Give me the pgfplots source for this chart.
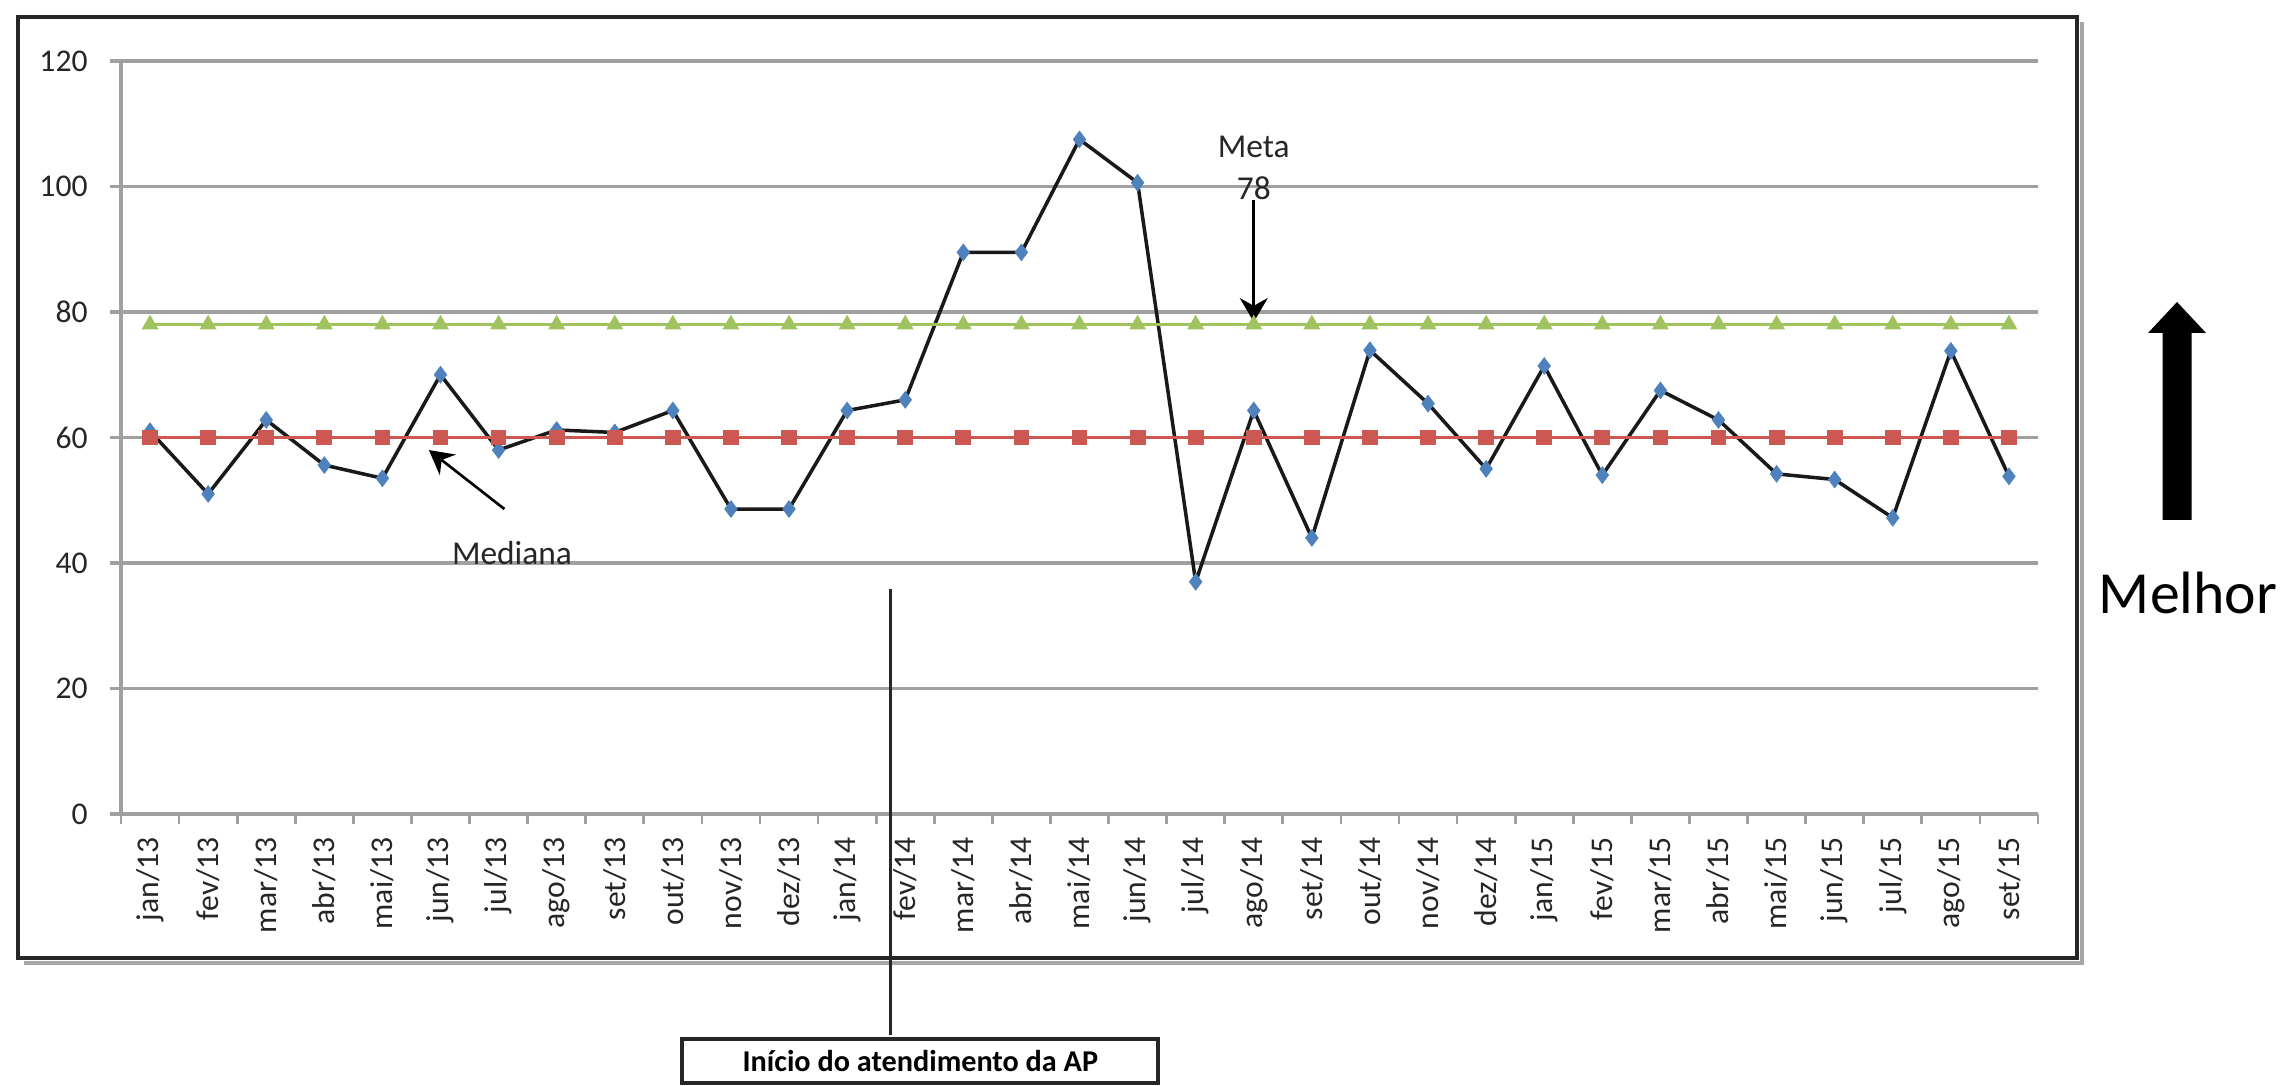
\documentclass[border=0pt]{standalone}
\usepackage{fontspec}
\setmainfont{Carlito}
\usepackage{pgfplots}
\pgfplotsset{compat=1.18}
\usetikzlibrary{arrows.meta}
\definecolor{gridgray}{RGB}{160,160,160}
\definecolor{medred}{RGB}{205,88,82}
\definecolor{metagreen}{RGB}{160,195,95}
\definecolor{markblue}{RGB}{79,129,189}
\pgfplotstableread{
x y
0 61
1 51
2 62.8
3 55.6
4 53.5
5 70
6 58
7 61.2
8 60.8
9 64.3
10 48.6
11 48.6
12 64.3
13 66
14 89.5
15 89.5
16 107.5
17 100.6
18 37
19 64.3
20 44
21 73.9
22 65.4
23 55
24 71.4
25 54
26 67.5
27 62.8
28 54.2
29 53.3
30 47.2
31 73.8
32 53.8
}\datatable
\pgfplotstableread{
x y
0 60
1 60
2 60
3 60
4 60
5 60
6 60
7 60
8 60
9 60
10 60
11 60
12 60
13 60
14 60
15 60
16 60
17 60
18 60
19 60
20 60
21 60
22 60
23 60
24 60
25 60
26 60
27 60
28 60
29 60
30 60
31 60
32 60
}\medtable
\pgfplotstableread{
x y
0 78
1 78
2 78
3 78
4 78
5 78
6 78
7 78
8 78
9 78
10 78
11 78
12 78
13 78
14 78
15 78
16 78
17 78
18 78
19 78
20 78
21 78
22 78
23 78
24 78
25 78
26 78
27 78
28 78
29 78
30 78
31 78
32 78
}\metatable
\begin{document}
\begin{tikzpicture}
\path[use as bounding box] (0,0) rectangle (228mm,108.6mm);
\begin{scope}[shift={(0mm,108.6mm)}, x=0.1mm, y=-0.1mm]
  % frame with shadow
  \draw[line width=0.45mm, gray!70] (24,963) -- (2082,963) -- (2082,22);
  \draw[line width=0.45mm, black!85] (18,17) rectangle (2077,958);
\end{scope}
\begin{axis}[
  at={(12.1mm,27.2mm)}, anchor=south west,
  scale only axis, width=191.7mm, height=75.3mm,
  xmin=-0.5, xmax=32.5, ymin=0, ymax=120,
  axis lines*=left,
  axis line style={gridgray, line width=0.9pt},
  ytick={0,20,...,120},
  ymajorgrids,
  major grid style={gridgray, line width=0.9pt},
  xtick={0,...,32},
  xticklabels={jan/13,fev/13,mar/13,abr/13,mai/13,jun/13,jul/13,ago/13,set/13,out/13,nov/13,dez/13,jan/14,fev/14,mar/14,abr/14,mai/14,jun/14,jul/14,ago/14,set/14,out/14,nov/14,dez/14,jan/15,fev/15,mar/15,abr/15,mai/15,jun/15,jul/15,ago/15,set/15},
  minor xtick={-0.5,0.5,...,32.5},
  tick align=outside,
  major tick length=1.1mm,
  minor tick length=1mm,
  major x tick style={draw=none},
  minor x tick style={gridgray, line width=0.8pt},
  ytick style={gridgray, line width=0.9pt},
  /pgf/number format/assume math mode=true,
  yticklabel style={font=\fontsize{9}{10}\selectfont, xshift=-1mm, text=black!85},
  xticklabel style={rotate=90, anchor=east, font=\fontsize{9}{10}\selectfont, text=black!85},
  clip=false,
]
\addplot[black!90, line width=1pt, mark=diamond*, mark size=2.3pt,
  mark options={fill=markblue, draw=markblue, line width=0.3pt}] table[x=x,y=y] {\datatable};
\addplot[medred, line width=1.1pt, mark=square*, mark size=1.7pt,
  mark options={fill=medred, draw=medred}] table[x=x,y=y] {\medtable};
\addplot[metagreen, line width=1pt, mark=triangle*, mark size=1.8pt,
  mark options={fill=metagreen, draw=metagreen}] table[x=x,y=y] {\metatable};

% Meta annotation
\node[font=\fontsize{9.5}{11}\selectfont, text=black!85] at (axis cs:19,106.3) {Meta};
\node[font=\fontsize{9.5}{11}\selectfont, text=black!85] at (axis cs:19,99.8) {78};
\draw[line width=0.75pt, -{Stealth[length=2.4mm, width=2.8mm]}] (axis cs:19,97.8) -- (axis cs:19,78.4);

% Mediana annotation
\draw[line width=0.75pt, -{Stealth[length=2.4mm, width=2.6mm]}] (axis cs:6.1,48.6) -- (axis cs:4.8,58);
\node[font=\fontsize{9.5}{11}\selectfont, text=black!85] at (axis cs:6.23,41.6) {Mediana};

% Inicio line and box
\draw[line width=0.9pt, black!85] (axis cs:12.75,35.8) -- (axis cs:12.75,-35.2);
\node[draw=black!85, line width=1.2pt, fill=white, minimum width=47.6mm, minimum height=4.4mm, inner sep=0pt,
  font=\bfseries\fontsize{8.6}{10}\selectfont] at (axis cs:13.26,-39.4) {Início do atendimento da AP};
\end{axis}
\begin{scope}[shift={(0mm,108.6mm)}, x=0.1mm, y=-0.1mm]
  \fill[black] (2162.5,520) -- (2191.5,520) -- (2191.5,333) -- (2206,333) -- (2177,302) -- (2148,333) -- (2162.5,333) -- cycle;
  \node[font=\fontsize{17}{20}\selectfont] at (2188,593) {Melhor};
\end{scope}
\end{tikzpicture}
\end{document}
